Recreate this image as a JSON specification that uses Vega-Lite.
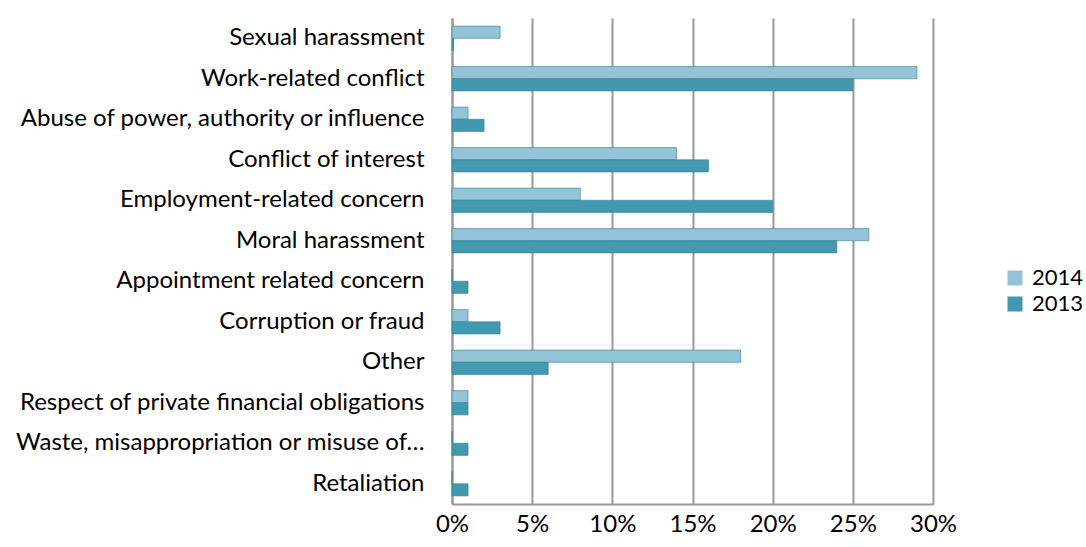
{
  "$schema": "https://vega.github.io/schema/vega-lite/v6.json",
  "autosize": "none",
  "padding": {"left": 452, "top": 18, "right": 153, "bottom": 43},
  "width": 481,
  "height": 486,
  "background": "white",
  "data": {
    "values": [
      {"category": "Sexual harassment", "year": "2014", "value": 3},
      {"category": "Sexual harassment", "year": "2013", "value": 0.1},
      {"category": "Work-related conflict", "year": "2014", "value": 29},
      {"category": "Work-related conflict", "year": "2013", "value": 25},
      {"category": "Abuse of power, authority or influence", "year": "2014", "value": 1},
      {"category": "Abuse of power, authority or influence", "year": "2013", "value": 2},
      {"category": "Conflict of interest", "year": "2014", "value": 14},
      {"category": "Conflict of interest", "year": "2013", "value": 16},
      {"category": "Employment-related concern", "year": "2014", "value": 8},
      {"category": "Employment-related concern", "year": "2013", "value": 20},
      {"category": "Moral harassment", "year": "2014", "value": 26},
      {"category": "Moral harassment", "year": "2013", "value": 24},
      {"category": "Appointment related concern", "year": "2014", "value": 0},
      {"category": "Appointment related concern", "year": "2013", "value": 1},
      {"category": "Corruption or fraud", "year": "2014", "value": 1},
      {"category": "Corruption or fraud", "year": "2013", "value": 3},
      {"category": "Other", "year": "2014", "value": 18},
      {"category": "Other", "year": "2013", "value": 6},
      {"category": "Respect of private financial obligations", "year": "2014", "value": 1},
      {"category": "Respect of private financial obligations", "year": "2013", "value": 1},
      {"category": "Waste, misappropriation or misuse of…", "year": "2014", "value": 0},
      {"category": "Waste, misappropriation or misuse of…", "year": "2013", "value": 1},
      {"category": "Retaliation", "year": "2014", "value": 0},
      {"category": "Retaliation", "year": "2013", "value": 1}
    ]
  },
  "mark": {"type": "bar", "stroke": "#2f7f93", "strokeWidth": 0.6},
  "encoding": {
    "y": {
      "field": "category",
      "type": "nominal",
      "sort": null,
      "scale": {"paddingInner": 0.4, "paddingOuter": 0.2},
      "axis": {
        "title": null,
        "ticks": false,
        "labelFont": "Lato",
        "labelFontSize": 24,
        "labelColor": "#000000",
        "labelPadding": 28,
        "labelLimit": 460,
        "domainColor": "#999999",
        "domainWidth": 2
      }
    },
    "yOffset": {"field": "year", "type": "nominal", "sort": ["2014", "2013"]},
    "x": {
      "field": "value",
      "type": "quantitative",
      "scale": {"domain": [0, 30], "nice": false},
      "axis": {
        "title": null,
        "values": [0, 5, 10, 15, 20, 25, 30],
        "labelExpr": "datum.value + '%'",
        "labelFlush": false,
        "labelDx": -5,
        "ticks": false,
        "domain": true,
        "domainColor": "#999999",
        "domainWidth": 2,
        "grid": true,
        "gridColor": "#999999",
        "gridWidth": 2,
        "labelFont": "Lato",
        "labelFontSize": 24,
        "labelColor": "#000000",
        "labelPadding": 8
      }
    },
    "color": {
      "field": "year",
      "type": "nominal",
      "sort": ["2014", "2013"],
      "scale": {"domain": ["2014", "2013"], "range": ["#93c4d7", "#4299b0"]},
      "legend": {
        "title": null,
        "orient": "none",
        "legendX": 552,
        "legendY": 249,
        "symbolType": "square",
        "symbolSize": 225,
        "symbolStrokeWidth": 0,
        "labelFont": "Lato",
        "labelFontSize": 22,
        "labelColor": "#000000",
        "labelOffset": 6,
        "rowPadding": 4
      }
    }
  },
  "config": {"view": {"stroke": null}}
}
